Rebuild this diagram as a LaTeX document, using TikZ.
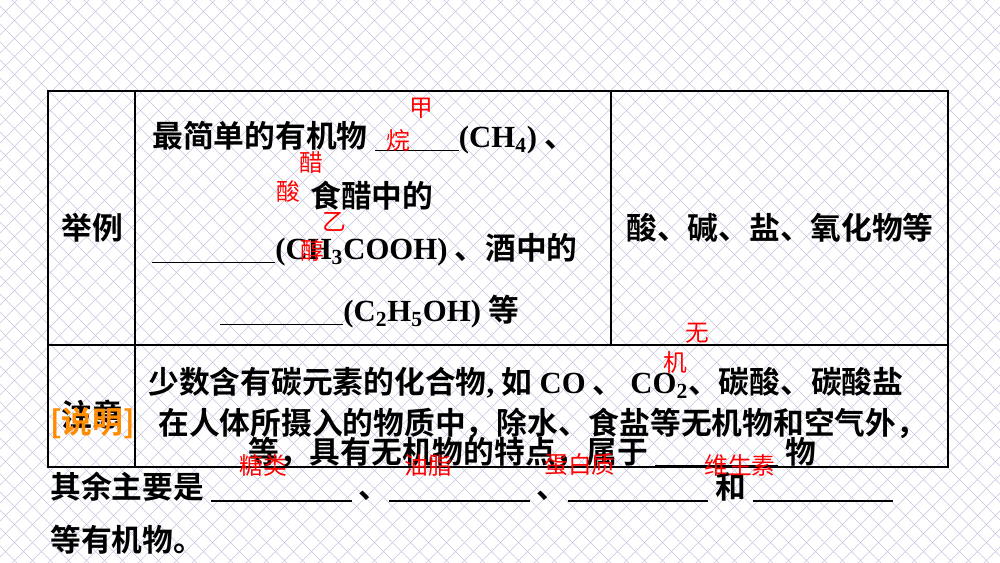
\documentclass[tikz,border=0pt]{standalone}
\usepackage{fontspec}
\setmainfont{Liberation Serif}
\newfontfamily\cjk{Noto Sans CJK SC}[BoldFont={Noto Sans CJK SC Bold}]
\tikzset{txt/.style={anchor=west,inner sep=0pt,font=\fontsize{17.5}{20}\selectfont\bfseries\cjk},
         ans/.style={inner sep=0pt,text=red,font=\fontsize{13.5}{15}\selectfont\cjk},
         cell/.style={inner sep=0pt,font=\fontsize{17.5}{20}\selectfont\bfseries\cjk}}
\newcommand{\blank}[1]{\rule[-2pt]{#1pt}{0.9pt}}
\newcommand{\lat}[1]{{\fontsize{17.5}{20}\selectfont\bfseries\rmfamily #1}}
\begin{document}
\begin{tikzpicture}[x=0.02cm,y=-0.02cm]
    % background hatch
    \fill[white] (0,0) rectangle (1000,563);
    \begin{scope}
        \clip (0,0) rectangle (1000,563);
        \foreach \k in {-600,-582,...,1000}{%
            \draw[blue!30!gray!35,line width=0.3pt] (\k,0) -- ++(563,563);
            \draw[blue!30!gray!35,line width=0.3pt] (\k+563,0) -- ++(-563,563);
        }
    \end{scope}
    % table
    \draw[line width=0.8pt] (48,91) rectangle (948,467);
    \draw[line width=0.8pt] (135,91) -- (135,467) (611,91) -- (611,345) (48,345) -- (948,345);
    \node[cell] (ex) at (92,228) {举例};
    \node[cell] (note) at (92,415) {注意};
    % left cell
    \node[txt] (l1) at (152,138) {最简单的有机物 \blank{48}\lat{(CH\textsubscript{4})} 、};
    \node[txt] (l2) at (310,196) {食醋中的};
    \node[txt] (l3) at (152,250) {\blank{70}\lat{(CH\textsubscript{3}COOH)} 、酒中的};
    \node[txt] (l4) at (220,312) {\blank{70}\lat{(C\textsubscript{2}H\textsubscript{5}OH)} 等};
    \node[cell] (right) at (780,228) {酸、碱、盐、氧化物等};
    \node[txt] (n1) at (148,383) {少数含有碳元素的化合物\lat{, }如 \lat{CO} 、 \lat{CO\textsubscript{2}}、碳酸、碳酸盐};
    \node[txt] (n2) at (248,452) {等，具有无机物的特点，属于 \blank{70} 物};
    % overlay text
    \node[txt,text=orange!90!yellow] (say) at (50,423) {[说明]};
    \node[txt] (s1) at (158,423) {在人体所摄入的物质中，除水、食盐等无机物和空气外，};
    \node[txt] (s2) at (50,487) {其余主要是 \blank{80} 、\blank{80} 、\blank{80} 和 \blank{80}};
    \node[txt] (s3) at (50,540) {等有机物。};
    % answers
    \node[ans] (a1) at (421,108) {甲};
    \node[ans] (a2) at (398,140) {烷};
    \node[ans] (a3) at (311,162) {醋};
    \node[ans] (a4) at (288,192) {酸};
    \node[ans] (a5) at (334,222) {乙};
    \node[ans] (a6) at (312,250) {醇};
    \node[ans] (a7) at (697,333) {无};
    \node[ans] (a8) at (675,362) {机};
    \node[ans] (a9) at (263,465) {糖类};
    \node[ans] (a10) at (428,465) {油脂};
    \node[ans] (a11) at (580,465) {蛋白质};
    \node[ans] (a12) at (740,465) {维生素};
\end{tikzpicture}
\end{document}
